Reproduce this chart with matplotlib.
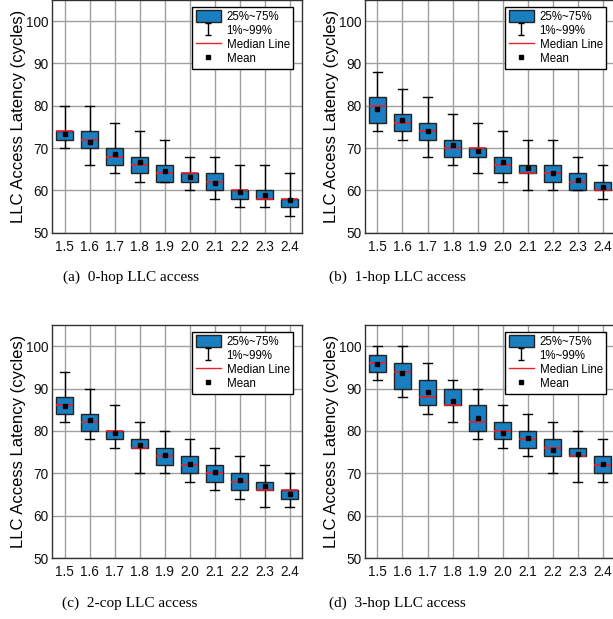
import matplotlib
matplotlib.use("Agg")
import matplotlib.pyplot as plt
from matplotlib.patches import Patch
from matplotlib.lines import Line2D
from matplotlib.path import Path

categories = ["1.5", "1.6", "1.7", "1.8", "1.9", "2.0", "2.1", "2.2", "2.3", "2.4"]

# panel (a) 0-hop
a_p1 = [70, 66, 64, 62, 62, 60, 58, 56, 56, 54]
a_q1 = [72, 70, 66, 64, 62, 62, 60, 58, 58, 56]
a_med = [74, 72, 68, 66, 64, 64, 62, 60, 58, 58]
a_q3 = [74, 74, 70, 68, 66, 64, 64, 60, 60, 58]
a_p99 = [80, 80, 76, 74, 72, 68, 68, 66, 66, 64]
a_mean = [73.4, 71.5, 68.5, 66.7, 64.7, 63.2, 61.8, 59.7, 59.0, 57.7]

# panel (b) 1-hop
b_p1 = [74, 72, 68, 66, 64, 62, 60, 60, 60, 58]
b_q1 = [76, 74, 72, 68, 68, 64, 64, 62, 60, 60]
b_med = [80, 76, 74, 70, 70, 66, 64, 64, 62, 60]
b_q3 = [82, 78, 76, 72, 70, 68, 66, 66, 64, 62]
b_p99 = [88, 84, 82, 78, 76, 74, 72, 72, 68, 66]
b_mean = [79.3, 76.7, 74.0, 70.7, 69.3, 66.8, 65.2, 64.2, 62.4, 60.7]

# panel (c) 2-cop
c_p1 = [82, 78, 76, 70, 70, 68, 66, 64, 62, 62]
c_q1 = [84, 80, 78, 76, 72, 70, 68, 66, 66, 64]
c_med = [86, 82, 80, 76, 74, 72, 70, 68, 66, 66]
c_q3 = [88, 84, 80, 78, 76, 74, 72, 70, 68, 66]
c_p99 = [94, 90, 86, 82, 80, 78, 76, 74, 72, 70]
c_mean = [85.8, 82.6, 79.4, 76.7, 74.3, 72.2, 70.2, 68.4, 67.0, 65.1]

# panel (d) 3-hop
d_p1 = [92, 88, 84, 82, 78, 76, 74, 70, 68, 68]
d_q1 = [94, 90, 86, 86, 80, 78, 76, 74, 74, 70]
d_med = [96, 94, 88, 86, 82, 80, 78, 76, 74, 72]
d_q3 = [98, 96, 92, 90, 86, 82, 80, 78, 76, 74]
d_p99 = [100, 100, 96, 92, 90, 86, 84, 82, 80, 78]
d_mean = [95.8, 93.6, 89.2, 87.1, 83.1, 79.6, 78.3, 75.6, 74.6, 72.2]

captions = ["(a)  0-hop LLC access", "(b)  1-hop LLC access",
            "(c)  2-cop LLC access", "(d)  3-hop LLC access"]
legend_labels = ["25%~75%", "1%~99%", "Median Line", "Mean"]
ylabel = "LLC Access Latency (cycles)"

panels = [
    (a_p1, a_q1, a_med, a_q3, a_p99, a_mean),
    (b_p1, b_q1, b_med, b_q3, b_p99, b_mean),
    (c_p1, c_q1, c_med, c_q3, c_p99, c_mean),
    (d_p1, d_q1, d_med, d_q3, d_p99, d_mean),
]

BOX_COLOR = "#1a7fc1"
W, H = 613, 619
fig = plt.figure(figsize=(W / 100, H / 100), dpi=100)

positions_px = [
    (52, 0, 250, 232.7),
    (365, 0, 250, 232.7),
    (52, 325, 250, 233),
    (365, 325, 250, 233),
]
caption_xy = [(131, 277), (397, 277), (130, 603), (397, 603)]

ibeam = Path([(-0.5, 1), (0.5, 1), (0, 1), (0, -1), (-0.5, -1), (0.5, -1)],
             [Path.MOVETO, Path.LINETO, Path.MOVETO, Path.LINETO, Path.MOVETO, Path.LINETO])

for (data, pos, cap) in zip(panels, positions_px, zip(captions, caption_xy)):
    x0, y0, w, h = pos
    ax = fig.add_axes([x0 / W, 1 - (y0 + h) / H, w / W, h / H])
    p1, q1, med, q3, p99, mean = data
    stats = []
    for i in range(len(categories)):
        stats.append(dict(whislo=p1[i], q1=q1[i], med=med[i], q3=q3[i],
                          whishi=p99[i], mean=mean[i], label=categories[i], fliers=[]))
    ax.bxp(stats, positions=range(1, len(categories) + 1), widths=0.65,
           patch_artist=True, showmeans=True, showfliers=False,
           boxprops=dict(facecolor=BOX_COLOR, edgecolor="#222222", linewidth=1.0),
           whiskerprops=dict(color="black", linewidth=1.0),
           capprops=dict(color="black", linewidth=1.0),
           medianprops=dict(color="#e8202a", linewidth=1.2),
           meanprops=dict(marker="s", markerfacecolor="black", markeredgecolor="black",
                          markersize=3),
           capwidths=0.36, zorder=3)
    ax.set_xlim(0.5, 10.5)
    ax.set_ylim(50, 105)
    ax.set_yticks([50, 60, 70, 80, 90, 100])
    ax.set_xticks(range(1, len(categories) + 1))
    ax.set_xticklabels(categories)
    ax.grid(True, color="#a0a0a0", linewidth=1.0, zorder=0)
    ax.set_axisbelow(True)
    ax.tick_params(axis="y", length=0, labelsize=9.8, pad=2.5, labelcolor="#111111")
    ax.tick_params(axis="x", length=0, labelsize=9.8, pad=5, labelcolor="#111111")
    for lab in ax.get_xticklabels() + ax.get_yticklabels():
        lab.set_fontfamily("Liberation Sans")
    for s in ax.spines.values():
        s.set_color("#333333")
        s.set_linewidth(1.0)
    ax.set_ylabel(ylabel, fontsize=12, family="Liberation Sans")
    ax.yaxis.set_label_coords(-0.102, 0.5)
    handles = [
        Patch(facecolor=BOX_COLOR, edgecolor="#222222", linewidth=1.0),
        Line2D([], [], linestyle="none", marker=ibeam, markersize=9,
               markerfacecolor="none", markeredgecolor="black", markeredgewidth=1.0),
        Line2D([], [], color="#e8202a", linewidth=1.0),
        Line2D([], [], linestyle="none", marker="s", markersize=3, color="black"),
    ]
    leg = ax.legend(handles, legend_labels, loc="upper right",
                    bbox_to_anchor=(0.965, 0.97), prop=dict(family="Liberation Sans", size=8.3),
                    frameon=True, fancybox=False, edgecolor="black", framealpha=1,
                    handlelength=2.2, handleheight=1.15, labelspacing=0.12,
                    borderpad=0.3, handletextpad=0.5, borderaxespad=0)
    leg.get_frame().set_linewidth(1.0)
    leg.set_zorder(5)
    text, (cx, cy) = cap
    fig.text(cx / W, 1 - cy / H, text, ha="center", va="center",
             family="Liberation Serif", fontsize=11)

fig.savefig("out.png", dpi=100)
